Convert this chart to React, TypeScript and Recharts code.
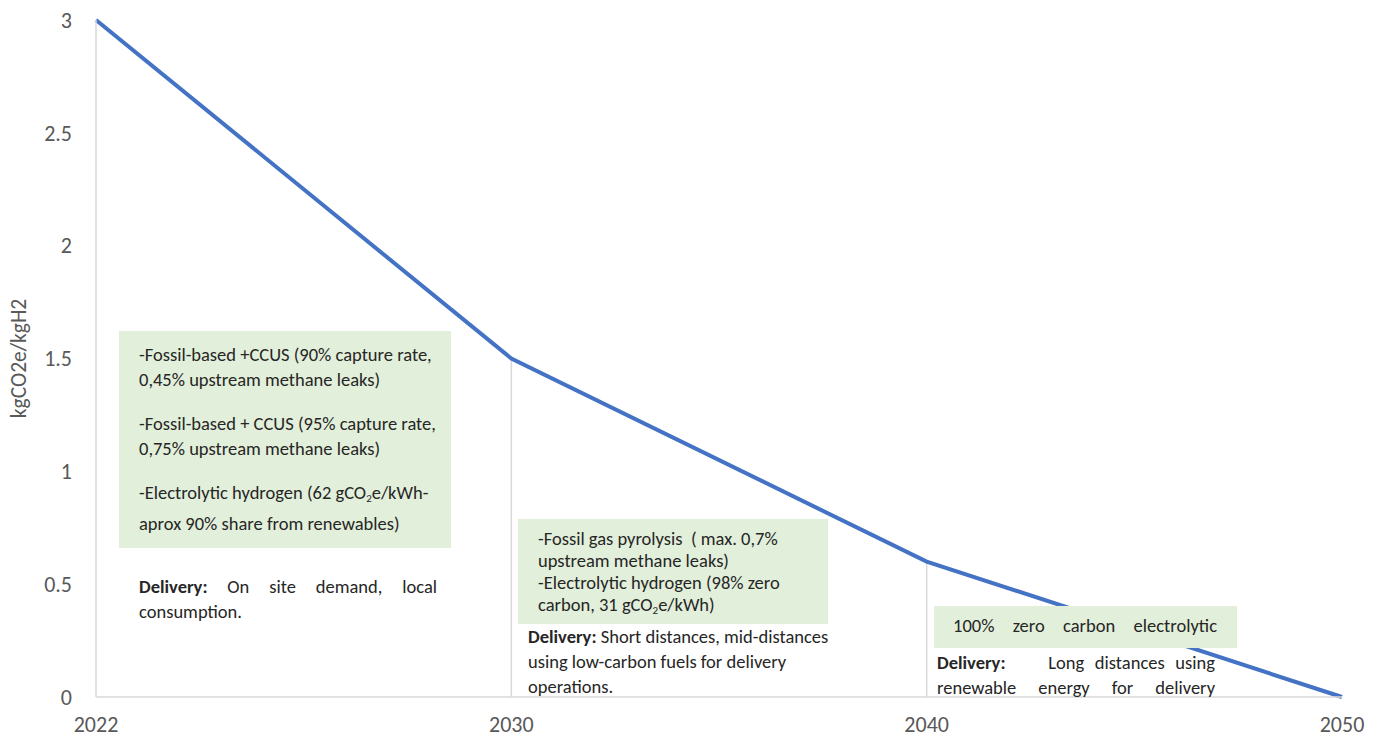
import React from "react";
import { LineChart, Line, XAxis, YAxis, ReferenceLine } from "recharts";

const years = ["2022", "2030", "2040", "2050"];
const intensity = [3, 1.5, 0.6, 0];
const yTicks = [0, 0.5, 1, 1.5, 2, 2.5, 3];
const dropYears = ["2030", "2040"];

const data = years.map((year, i) => ({ year, value: intensity[i] }));

const FONT = "Carlito, Lato, 'Open Sans', sans-serif";
const TEXT = "#262626";
const GREEN = "#E2EFDA";

const abs = (left: number, top: number, width: number, height: number): React.CSSProperties => ({
  position: "absolute",
  left,
  top,
  width,
  height,
  overflow: "hidden",
  boxSizing: "border-box",
});

const Justified = ({ children, style }: { children: React.ReactNode; style?: React.CSSProperties }) => (
  <div style={{ textAlign: "justify", textAlignLast: "justify", whiteSpace: "nowrap", ...style }}>{children}</div>
);

const Sub = () => <sub style={{ fontSize: 11, lineHeight: 0, verticalAlign: "-3px" }}>2</sub>;

const Annotations = () => (
  <div style={{ fontFamily: FONT, color: TEXT, fontSize: 18.5, whiteSpace: "nowrap" }}>
    {/* 2022-2030 */}
    <div style={{ ...abs(119, 331, 332, 217), background: GREEN, padding: "11px 0 0 20px", lineHeight: "25px" }}>
      <div>-Fossil-based +CCUS (90% capture rate,</div>
      <div>0,45% upstream methane leaks)</div>
      <div style={{ height: 19 }} />
      <div>-Fossil-based + CCUS (95% capture rate,</div>
      <div>0,75% upstream methane leaks)</div>
      <div style={{ height: 19 }} />
      <div>
        -Electrolytic hydrogen (62 gCO<Sub />e/kWh-
      </div>
      <div style={{ marginTop: 6 }}>aprox 90% share from renewables)</div>
    </div>
    <div style={{ ...abs(139, 574, 298, 60), lineHeight: "25px" }}>
      <Justified>
        <b>Delivery:</b> On site demand, local
      </Justified>
      <div>consumption.</div>
    </div>

    {/* 2030-2040 */}
    <div style={{ ...abs(518, 519, 310, 105), background: GREEN, padding: "9px 0 0 20px", lineHeight: "22px" }}>
      <div>-Fossil gas pyrolysis&nbsp; ( max. 0,7%</div>
      <div>upstream methane leaks)</div>
      <div>-Electrolytic hydrogen (98% zero</div>
      <div>
        carbon, 31 gCO<Sub />e/kWh)
      </div>
    </div>
    <div style={{ ...abs(528, 624, 310, 75), lineHeight: "25px" }}>
      <div>
        <b>Delivery:</b> Short distances, mid-distances
      </div>
      <div>using low-carbon fuels for delivery</div>
      <div>operations.</div>
    </div>

    {/* 2040-2050 */}
    <div style={{ ...abs(934, 606, 303, 42), background: GREEN, padding: "9px 20px 0 19px", lineHeight: "22px" }}>
      <Justified>100% zero carbon electrolytic</Justified>
    </div>
    <div style={{ ...abs(937, 650, 278, 52), overflow: "visible", lineHeight: "25px" }}>
      <Justified>
        <b>Delivery:</b>&nbsp;&nbsp;&nbsp; Long distances using
      </Justified>
      <Justified>renewable energy for delivery</Justified>
    </div>
  </div>
);

const App = () => (
  <div style={{ position: "absolute", left: 0, top: 0, width: 1382, height: 739, background: "#fff" }}>
    <LineChart width={1382} height={739} data={data} margin={{ top: 20, right: 40, left: 0, bottom: 0 }}>
      <XAxis
        dataKey="year"
        height={42}
        tickLine={false}
        tickSize={0}
        tickMargin={19}
        axisLine={{ stroke: "#D9D9D9", strokeWidth: 1.5 }}
        tick={{ fill: "#595959", fontSize: 22, fontFamily: FONT }}
      />
      <YAxis
        width={96}
        domain={[0, 3]}
        ticks={yTicks}
        tickLine={false}
        tickSize={0}
        tickMargin={24}
        axisLine={{ stroke: "#D9D9D9", strokeWidth: 1.5 }}
        tick={{ fill: "#595959", fontSize: 22, fontFamily: FONT }}
        label={{
          value: "kgCO2e/kgH2",
          angle: -90,
          position: "insideLeft",
          offset: 18,
          style: { textAnchor: "middle", fill: "#595959", fontSize: 21.5, fontFamily: FONT },
        }}
      />
      {dropYears.map((y) => (
        <ReferenceLine
          key={y}
          segment={[
            { x: y, y: 0 },
            { x: y, y: intensity[years.indexOf(y)] },
          ]}
          stroke="#D9D9D9"
          strokeWidth={1.5}
        />
      ))}
      <Line
        type="linear"
        dataKey="value"
        stroke="#4472C4"
        strokeWidth={4}
        dot={false}
        activeDot={false}
        isAnimationActive={false}
      />
    </LineChart>
    <Annotations />
  </div>
);

export default App;
